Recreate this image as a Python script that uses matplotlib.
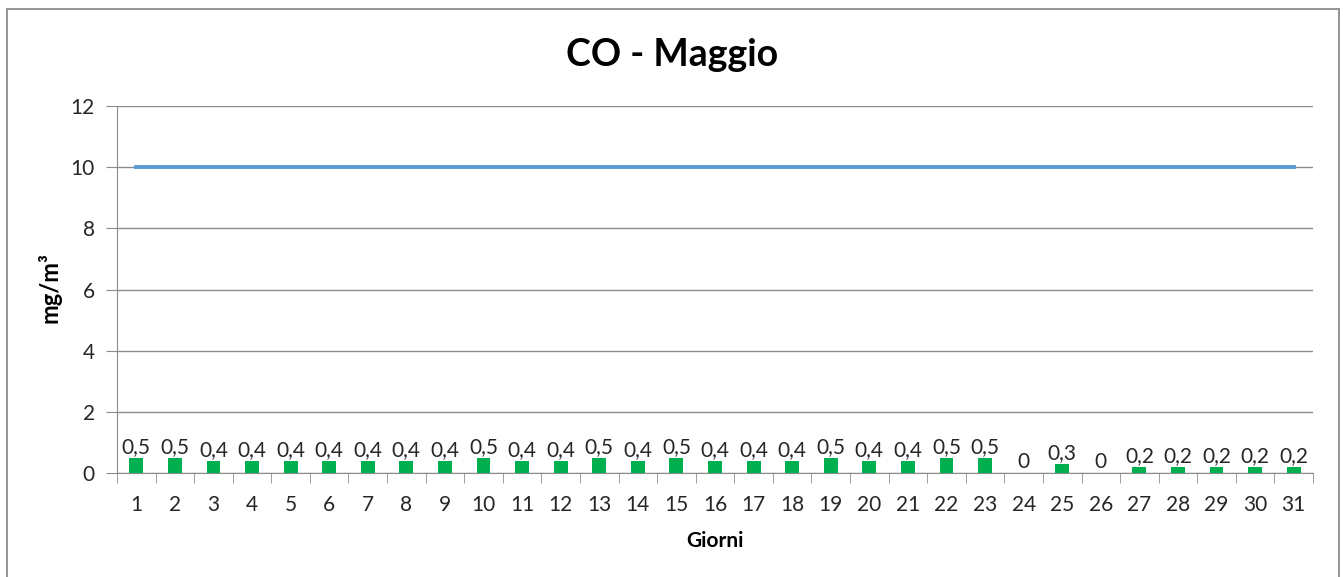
import matplotlib.pyplot as plt
from matplotlib.patches import Rectangle

giorni = [str(i) for i in range(1, 32)]
valori = [0.5, 0.5, 0.4, 0.4, 0.4, 0.4, 0.4, 0.4, 0.4, 0.5,
          0.4, 0.4, 0.5, 0.4, 0.5, 0.4, 0.4, 0.4, 0.5, 0.4,
          0.4, 0.5, 0.5, 0, 0.3, 0, 0.2, 0.2, 0.2, 0.2, 0.2]
limite = [10] * 31

plt.rcParams['font.family'] = ['Lato', 'DejaVu Sans']

fig = plt.figure(figsize=(13.43, 5.77), dpi=100)
ax = fig.add_axes([117 / 1343, 1 - 473 / 577, (1313 - 117) / 1343, (473 - 106) / 577])

# bordo del grafico
fig.patches.append(Rectangle((7 / 1343, -0.05), (1339 - 7) / 1343, 1.05 - 9 / 577,
                             transform=fig.transFigure, fill=False,
                             edgecolor='#8c8c8c', linewidth=1.3))

x = list(range(len(giorni)))
ax.bar(x, valori, width=0.36, color='#00b050', zorder=3)
ax.plot(x, limite, color='#5b9bd5', linewidth=2.8, zorder=4)

for xi, v in zip(x, valori):
    lab = str(v).replace('.', ',') if v != 0 else '0'
    ax.annotate(lab, (xi, v), xytext=(0, 0.5), textcoords='offset points',
                ha='center', va='bottom', fontsize=15, color='#262626')

ax.set_xlim(-0.5, 30.5)
ax.set_ylim(0, 12)
ax.set_yticks(range(0, 13, 2))
ax.set_xticks(x)
ax.set_xticklabels(giorni)
ax.set_xticks([i - 0.5 for i in range(32)], minor=True)
ax.tick_params(axis='x', which='major', length=0, pad=16, labelsize=15, labelcolor='#262626')
ax.tick_params(axis='x', which='minor', length=7, color='#8c8c8c')
ax.tick_params(axis='y', length=8, color='#8c8c8c', labelsize=15, labelcolor='#262626', pad=8)

ax.grid(axis='y', color='#8c8c8c', linewidth=1)
ax.set_axisbelow(True)
for s in ['top', 'right']:
    ax.spines[s].set_visible(False)
ax.spines['left'].set_color('#8c8c8c')
ax.spines['bottom'].set_color('#8c8c8c')

ax.set_xlabel('Giorni', fontsize=15, fontweight='bold')
ax.xaxis.set_label_coords(0.5, -0.158)
ax.set_ylabel('mg/m³', fontsize=17, fontweight='bold')
ax.yaxis.set_label_coords(-0.046, 0.505)
fig.text(672 / 1343, 1 - 55 / 577, 'CO - Maggio', ha='center', va='center',
         fontsize=27, fontweight='bold')

fig.savefig('out.png', dpi=100)
